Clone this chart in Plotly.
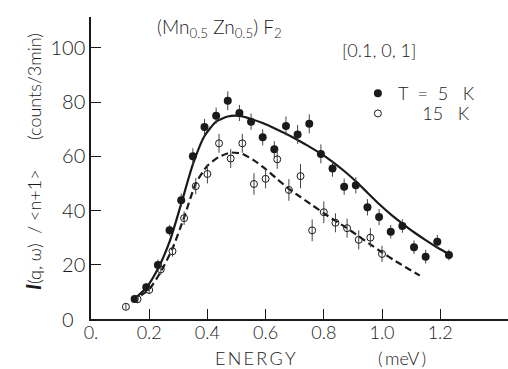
import plotly.graph_objects as go

# ---- data ----
energy_5K = [0.15, 0.19, 0.23, 0.27, 0.31, 0.35, 0.39, 0.43, 0.47, 0.51, 0.55, 0.59, 0.63, 0.67,
             0.71, 0.75, 0.79, 0.83, 0.87, 0.91, 0.95, 0.99, 1.03, 1.07, 1.11, 1.15, 1.19, 1.23]
intensity_5K = [7.4, 11.7, 19.9, 32.7, 43.8, 60.0, 70.8, 75.0, 80.5, 76.0, 72.8, 67.0, 62.6, 71.2,
                68.1, 72.0, 60.9, 55.5, 48.8, 49.3, 41.2, 37.6, 32.2, 34.3, 26.5, 23.0, 28.5, 23.6]
error_5K = [1.5, 1.5, 2, 2, 2.5, 3, 3, 3, 3.5, 3, 3, 3, 3, 3.5,
            3.5, 3.5, 3.5, 3, 3, 3, 3, 3, 2.5, 2.5, 2.5, 2.5, 2.5, 2]

energy_15K = [0.12, 0.16, 0.20, 0.24, 0.28, 0.32, 0.36, 0.40, 0.44, 0.48, 0.52, 0.56, 0.60, 0.64,
              0.68, 0.72, 0.76, 0.80, 0.84, 0.88, 0.92, 0.96, 1.00]
intensity_15K = [4.5, 7.3, 10.7, 18.3, 25.0, 37.2, 49.0, 53.5, 64.8, 59.2, 64.8, 49.8, 51.7, 58.9,
                 47.6, 52.7, 32.7, 39.4, 35.5, 33.5, 29.2, 30.0, 24.0]
error_15K = [1, 1.5, 1.5, 2, 2, 2.5, 3, 3.5, 3.5, 3.5, 3.5, 4, 3.5, 3.5,
             4, 4.5, 4, 4, 3.5, 3.5, 3.5, 3.5, 3]

# fitted curves
fit_5K_x = [0.14, 0.19, 0.23, 0.27, 0.31, 0.35, 0.39, 0.43, 0.47, 0.51, 0.55, 0.59, 0.63, 0.67,
            0.71, 0.75, 0.79, 0.83, 0.87, 0.91, 0.95, 0.99, 1.03, 1.07, 1.11, 1.15, 1.19, 1.23]
fit_5K_y = [6.5, 11.5, 18.5, 28.5, 42.5, 57.0, 67.5, 72.8, 74.7, 74.9, 73.8, 72.3, 70.4, 68.3,
            66.0, 63.6, 61.0, 58.0, 54.6, 50.8, 46.6, 42.4, 38.6, 35.2, 32.0, 29.1, 26.4, 24.0]
fit_15K_x = [0.14, 0.20, 0.24, 0.28, 0.32, 0.36, 0.40, 0.44, 0.48, 0.52, 0.56, 0.60, 0.64, 0.68,
             0.72, 0.76, 0.80, 0.84, 0.88, 0.92, 0.96, 1.00, 1.04, 1.08, 1.13]
fit_15K_y = [6.5, 11.0, 17.5, 26.0, 37.5, 50.0, 56.5, 59.8, 61.4, 60.9, 58.5, 55.3, 51.6, 48.0,
             45.0, 42.0, 39.0, 36.2, 33.5, 30.5, 27.5, 24.6, 21.8, 19.2, 16.0]

x_ticks = [0, 0.2, 0.4, 0.6, 0.8, 1.0, 1.2]
x_ticktext = ["0.", "0.2", "0.4", "0.6", "0.8", "1.0", "1.2"]
y_ticks = [20, 40, 60, 80, 100]
y_ticktext = ["20", "40", "60", "80", "100"]

FONT = "Lato"
INK = "#1a1a1a"
W = 300


def f(size):
    return dict(size=size, color=INK, family=FONT, weight=W)


fig = go.Figure()

fig.add_trace(go.Scatter(x=fit_5K_x, y=fit_5K_y, mode="lines",
                         line=dict(color=INK, width=2.2, shape="spline", smoothing=0.6),
                         showlegend=False, hoverinfo="skip"))
fig.add_trace(go.Scatter(x=fit_15K_x, y=fit_15K_y, mode="lines",
                         line=dict(color=INK, width=2.2, dash="7px,4px", shape="spline", smoothing=0.6),
                         showlegend=False, hoverinfo="skip"))

fig.add_trace(go.Scatter(x=energy_5K, y=intensity_5K, mode="markers",
                         name="T&nbsp;&nbsp;=&nbsp;&nbsp;5&nbsp;&nbsp;&nbsp;K", legend="legend",
                         marker=dict(symbol="circle", size=8, color=INK),
                         error_y=dict(type="data", array=error_5K, color="#444", thickness=1, width=0)))
fig.add_trace(go.Scatter(x=energy_15K, y=intensity_15K, mode="markers",
                         name="&nbsp;&nbsp;&nbsp;&nbsp;&nbsp;15&nbsp;&nbsp;&nbsp;K",
                         legend="legend2",
                         marker=dict(symbol="circle-open", size=7, color=INK, line=dict(width=1)),
                         error_y=dict(type="data", array=error_15K, color="#444", thickness=1, width=0)))

annotations = [
    dict(text="(Mn<sub>0.5</sub>&nbsp;Zn<sub>0.5</sub>)&nbsp;F<sub>2</sub>", x=0.44, y=107.5,
         xref="x", yref="y", showarrow=False, font=f(19)),
    dict(text="[0.1,&nbsp;0,&nbsp;1]", x=0.99, y=99.3, xref="x", yref="y",
         showarrow=False, font=f(18)),
    dict(text="E&#8201;N&#8201;E&#8201;R&#8201;G&#8201;Y", x=0.5636, y=-0.128, xref="x", yref="paper",
         yanchor="middle", showarrow=False, font=f(18)),
    dict(text="(&#8201;meV&#8201;)", x=1.069, y=-0.128, xref="x", yref="paper", yanchor="middle",
         showarrow=False, font=f(18)),
    dict(text="<span style='font-size:21px'><b><i>I</i></b></span>(q,&nbsp;ω)&nbsp;&nbsp;/&nbsp;&lt;n+1&gt;"
              "&nbsp;&nbsp;&nbsp;&nbsp;&nbsp;&nbsp;(counts/3min)",
         x=-0.139, y=0.52, xref="paper", yref="paper", textangle=-90, xanchor="center",
         yanchor="middle", showarrow=False, font=f(18)),
    dict(text="0", x=-0.035, y=0.0, xref="paper", yref="y", xanchor="right", yanchor="middle",
         showarrow=False, font=f(20)),
]

fig.update_layout(
    width=508, height=369,
    margin=dict(l=91, r=0, t=17, b=50),
    paper_bgcolor="white", plot_bgcolor="white",
    font=f(18),
    annotations=annotations,
    showlegend=True,
    legend=dict(x=0.64, y=0.808, xanchor="left", yanchor="top", bgcolor="rgba(0,0,0,0)",
                font=f(18), itemwidth=30),
    legend2=dict(x=0.64, y=0.741, xanchor="left", yanchor="top", bgcolor="rgba(0,0,0,0)",
                 font=f(18), itemwidth=30),
)
fig.update_xaxes(range=[0, 1.433], showline=True, linecolor=INK, linewidth=1.5, showgrid=False,
                 zeroline=False, ticks="inside", ticklen=10, tickwidth=1, tickcolor=INK,
                 tickvals=x_ticks, ticktext=x_ticktext, tickfont=f(18), ticklabelstandoff=-3)
fig.update_yaxes(range=[0, 111.4], showline=True, linecolor=INK, linewidth=1.5, showgrid=False,
                 zeroline=False, ticks="inside", ticklen=10, tickwidth=1, tickcolor=INK,
                 tickvals=y_ticks, ticktext=y_ticktext, tickfont=f(20))

fig.write_html("out.html", config={"displayModeBar": False},
               post_script="document.body.style.margin='0';document.body.style.overflow='hidden';")
